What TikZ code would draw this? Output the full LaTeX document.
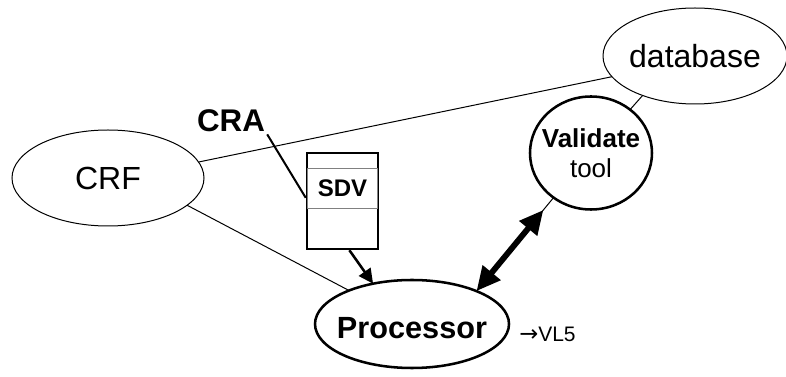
\documentclass[tikz,border=0pt]{standalone}
\usepackage{fontspec}
\setmainfont{Liberation Sans}
\newfontfamily\arrowfont{DejaVu Sans}
\usetikzlibrary{shapes.geometric,arrows.meta}

\begin{document}
\begin{tikzpicture}[x=0.75pt,y=-0.75pt,
    bubble/.style={ellipse,draw,line width=0.75pt,inner sep=0pt,outer sep=0pt},
    heavy/.style={bubble,line width=1.9pt},
    link/.style={line width=0.75pt},
    flow/.style={line width=1.9pt,-{Triangle[length=11pt,width=10.5pt]}},
    swap/.style={line width=4.4pt,{Triangle[length=18pt,width=16.5pt]}-{Triangle[length=18pt,width=16.5pt]}}]
    \useasboundingbox (0,0) rectangle (786,377);

    % the bubbles
    \node[bubble, minimum width=144pt, minimum height=72pt,
        label=center:{\fontsize{24}{28}\selectfont CRF}] (crf) at (108,178) {};
    \node[bubble, minimum width=138pt, minimum height=72pt,
        label=center:{\fontsize{24}{28}\selectfont database}] (db) at (695,56) {};
    \node[heavy, minimum width=91.5pt, minimum height=84.75pt,
        label={[align=center,font=\fontsize{19.5}{22.5}\selectfont]center:{\bfseries Validate}\\tool}] (val) at (591,153) {};
    \node[heavy, minimum width=145.5pt, minimum height=66pt,
        label={[yshift=-3pt]center:{\fontsize{23}{27}\selectfont\bfseries Processor}}] (proc) at (412,324) {};

    % the form
    \node[draw, line width=1.9pt, minimum width=53.25pt, minimum height=72pt, inner sep=0pt] (doc) at (342.5,201) {};
    \node[draw=gray, line width=0.6pt, minimum width=52pt, minimum height=30pt, inner sep=0pt,
        font=\fontsize{18}{21}\selectfont\bfseries] (sdv) at (342.5,188) {SDV};

    \node[inner sep=1.5pt, font=\fontsize{23.5}{27}\selectfont\bfseries] (cra) at (231,121) {CRA};
    \node[anchor=west, inner sep=0pt, font=\fontsize{15.75}{18}\selectfont] (vl) at (519,334) {{\arrowfont\fontsize{17}{18}\selectfont →}VL5};

    % connections
    \draw[link] (crf.10) -- (db.194);
    \draw[link] (crf.-19) -- (proc.152);
    \draw[link] (db.217) -- (val.48);
    \draw[line width=1.5pt] (cra.south east) -- (doc.175);
    \draw[flow] (doc.-82) -- (proc.134);
    \draw[link] (proc.27) -- (val.230);
    \draw[swap, shorten >=12pt] (proc.27) -- (val.230);
\end{tikzpicture}
\end{document}
